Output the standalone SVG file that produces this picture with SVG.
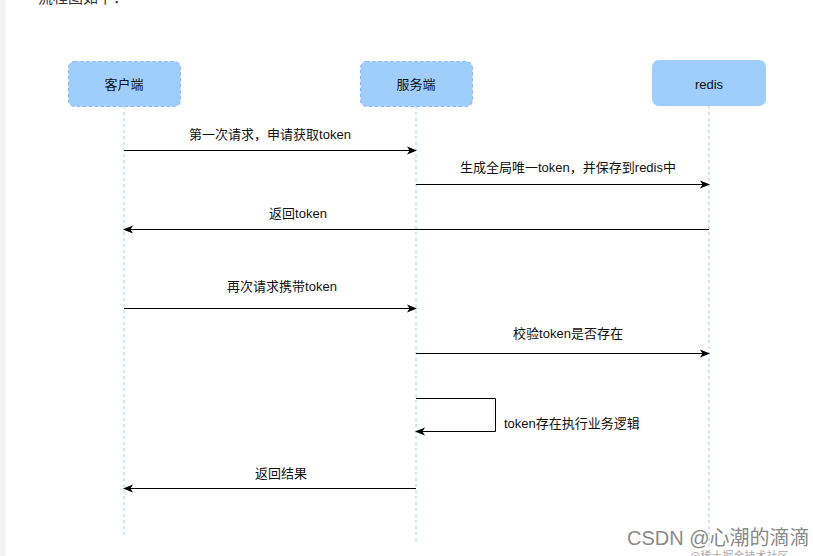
<svg xmlns="http://www.w3.org/2000/svg" width="813" height="556" viewBox="0 0 813 556">
<defs>
<marker id="ah" markerWidth="10" markerHeight="10" refX="9" refY="5" orient="auto" markerUnits="userSpaceOnUse">
<path d="M0,1 L10,5 L0,9 L2.5,5 Z" fill="#000"/>
</marker>
<style>
.t{font-family:"Liberation Sans","Noto Sans CJK SC",sans-serif;font-size:13px;fill:#111}
.box{fill:#9fcdfc}
.dash{stroke:#7fb6ee;stroke-width:1;stroke-dasharray:3,3;fill:#9fcdfc}
.life{stroke:#9fcdfc;stroke-width:1;stroke-dasharray:3,3;fill:none}
.msg{stroke:#000;stroke-width:1;fill:none;marker-end:url(#ah)}
</style>
</defs>
<rect width="813" height="556" fill="#fff"/>
<rect x="0" y="0" width="6" height="556" fill="#f3f4f5"/>
<text x="38" y="3" style="font-family:'Noto Sans CJK SC',sans-serif;font-size:15px;fill:#333">流程图如下：</text>
<g id="lifelines">
<line class="life" x1="124" y1="106" x2="124" y2="535"/>
<line class="life" x1="416" y1="106" x2="416" y2="543"/>
<line class="life" x1="709" y1="106" x2="709" y2="548"/>
</g>
<g id="client">
<rect class="dash" x="68.5" y="61.5" width="112" height="45" rx="6"/>
<text class="t" x="124" y="89" text-anchor="middle">客户端</text>
</g>
<g id="server">
<rect class="dash" x="360.5" y="61.5" width="112" height="45" rx="6"/>
<text class="t" x="416" y="89" text-anchor="middle">服务端</text>
</g>
<g id="redis">
<rect class="box" x="652" y="60" width="114" height="46" rx="7"/>
<text class="t" x="709" y="89" text-anchor="middle">redis</text>
</g>
<g id="connectors">
<line class="msg" x1="124" y1="150.5" x2="416" y2="150.5"/>
<text class="t" x="270" y="139" text-anchor="middle">第一次请求，申请获取token</text>
<line class="msg" x1="416" y1="184.5" x2="709" y2="184.5"/>
<text class="t" x="568" y="172" text-anchor="middle">生成全局唯一token，并保存到redis中</text>
<line class="msg" x1="709" y1="229.5" x2="124" y2="229.5"/>
<text class="t" x="298" y="218" text-anchor="middle">返回token</text>
<line class="msg" x1="124" y1="308.5" x2="416" y2="308.5"/>
<text class="t" x="282" y="291" text-anchor="middle">再次请求携带token</text>
<line class="msg" x1="416" y1="353.5" x2="709" y2="353.5"/>
<text class="t" x="568" y="338" text-anchor="middle">校验token是否存在</text>
<path class="msg" d="M416,398.5 H495.5 V431.5 H416"/>
<text class="t" x="504" y="428">token存在执行业务逻辑</text>
<line class="msg" x1="416" y1="488.5" x2="124" y2="488.5"/>
<text class="t" x="281" y="478" text-anchor="middle">返回结果</text>
</g>
<text x="627" y="545" style="font-family:'Liberation Sans','Noto Sans CJK SC',sans-serif;font-size:20px;fill:#8a8a8a">CSDN @心潮的滴滴</text>
<text x="690" y="560" style="font-family:'Noto Sans CJK SC',sans-serif;font-size:11px;fill:#aaa">@稀土掘金技术社区</text>
</svg>
